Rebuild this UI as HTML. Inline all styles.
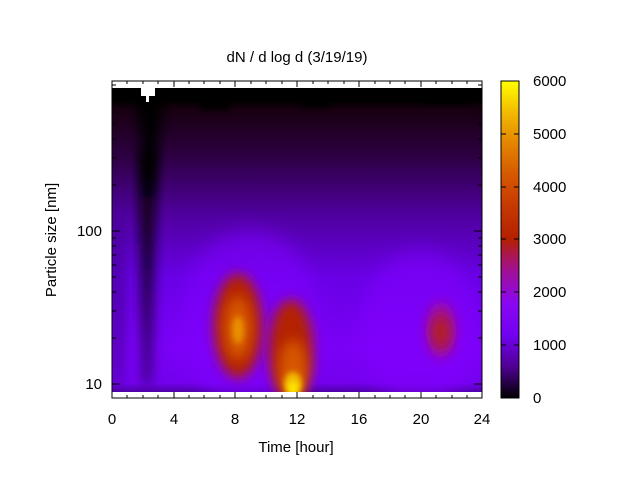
<!DOCTYPE html>
<html><head><meta charset="utf-8"><style>
body{margin:0;background:#fff}
svg{display:block}
text{font-family:"Liberation Sans","DejaVu Sans",sans-serif;font-size:15px;fill:#000}
</style></head><body>
<svg width="640" height="480" viewBox="0 0 640 480" xmlns="http://www.w3.org/2000/svg">
<defs>
<linearGradient id="bg" x1="0" y1="0" x2="0" y2="1">
<stop offset="0" stop-color="#000"/>
<stop offset="0.04" stop-color="#000"/>
<stop offset="0.07" stop-color="#180010"/>
<stop offset="0.22" stop-color="#2c0040"/>
<stop offset="0.42" stop-color="#5000a0"/>
<stop offset="0.62" stop-color="#6800e4"/>
<stop offset="0.85" stop-color="#7a00f6"/>
<stop offset="0.97" stop-color="#7400ee"/>
<stop offset="1" stop-color="#5000a8"/>
</linearGradient>
<linearGradient id="cb" x1="0" y1="1" x2="0" y2="0">
<stop offset="0" stop-color="#000000"/>
<stop offset="0.1" stop-color="#500096"/>
<stop offset="0.2" stop-color="#7202f2"/>
<stop offset="0.3" stop-color="#8b07f2"/>
<stop offset="0.4" stop-color="#a11096"/>
<stop offset="0.45" stop-color="#ab1750"/>
<stop offset="0.5" stop-color="#b42000"/>
<stop offset="0.6" stop-color="#c53700"/>
<stop offset="0.7" stop-color="#d55700"/>
<stop offset="0.8" stop-color="#e48300"/>
<stop offset="0.9" stop-color="#f2ba00"/>
<stop offset="1" stop-color="#ffff00"/>
</linearGradient>
<linearGradient id="st" x1="0" y1="0" x2="0" y2="1">
<stop offset="0" stop-color="#000"/>
<stop offset="0.3" stop-color="#0a0010"/>
<stop offset="0.6" stop-color="#200040"/>
<stop offset="1" stop-color="#3a0080"/>
</linearGradient>
<clipPath id="clip"><rect x="112" y="88" width="370" height="304"/></clipPath>
<filter id="b6" x="-50%" y="-50%" width="200%" height="200%"><feGaussianBlur stdDeviation="6"/></filter>
<filter id="b10" x="-50%" y="-50%" width="200%" height="200%"><feGaussianBlur stdDeviation="10"/></filter>
<filter id="b3" x="-50%" y="-50%" width="200%" height="200%"><feGaussianBlur stdDeviation="3"/></filter>
</defs>
<g clip-path="url(#clip)">
<rect x="112" y="88" width="370" height="304" fill="url(#bg)"/>
<ellipse cx="250" cy="320" rx="70" ry="90" fill="#8000ff" opacity="0.6" filter="url(#b10)"/>
<ellipse cx="420" cy="330" rx="60" ry="80" fill="#8200ff" opacity="0.6" filter="url(#b10)"/>
<!-- dark streak -->
<path d="M140,150 L156,150 L153,300 L151,385 L143,385 L141,300 Z" fill="url(#st)" filter="url(#b6)"/>
<path d="M134,88 L166,88 L160,130 L152,195 L146,195 L140,130 Z" fill="#000" filter="url(#b6)"/>
<ellipse cx="118" cy="300" rx="8" ry="90" fill="#40008a" opacity="0.6" filter="url(#b6)"/>
<!-- top black band -->
<path d="M112,88 H482 V100 H470 V104 H420 V98 H330 V108 H300 V100 H230 V110 H200 V100 H112Z" fill="#000" filter="url(#b3)"/>
<path d="M112,88 H482 V98 H112Z" fill="#000"/>
<!-- blobs -->
<ellipse cx="238" cy="326" rx="24" ry="52" fill="#b42000" filter="url(#b6)"/>
<ellipse cx="238" cy="328" rx="14" ry="32" fill="#d55700" filter="url(#b6)"/>
<ellipse cx="238" cy="330" rx="6" ry="14" fill="#e89000" filter="url(#b3)"/>
<ellipse cx="291" cy="350" rx="22" ry="50" fill="#b42000" filter="url(#b6)"/>
<ellipse cx="293" cy="370" rx="14" ry="30" fill="#d55700" filter="url(#b6)"/>
<ellipse cx="293" cy="384" rx="9" ry="12" fill="#f2ba00" filter="url(#b3)"/>
<ellipse cx="293" cy="388" rx="5" ry="6" fill="#ffe800" filter="url(#b3)"/>
<ellipse cx="441" cy="330" rx="15" ry="28" fill="#a11096" filter="url(#b6)"/>
<ellipse cx="441" cy="332" rx="8" ry="16" fill="#b42010" filter="url(#b6)"/>
</g>
<rect x="141" y="88" width="14" height="8" fill="#fff"/>
<rect x="146" y="96" width="3" height="6" fill="#fff"/>
<rect x="112" y="81" width="370" height="317" fill="none" stroke="#000" stroke-width="1"/>
<g stroke="#000" stroke-width="1">
<path d="M112,398v-6M174,398v-6M235,398v-6M297,398v-6M359,398v-6M421,398v-6M482,398v-6M112,81v6M174,81v6M235,81v6M297,81v6M359,81v6M421,81v6M482,81v6"/>
<path d="M127,398v-3M143,398v-3M158,398v-3M189,398v-3M204,398v-3M220,398v-3M251,398v-3M266,398v-3M282,398v-3M313,398v-3M328,398v-3M344,398v-3M375,398v-3M390,398v-3M405,398v-3M436,398v-3M452,398v-3M467,398v-3"/>
<path d="M127,81v3M143,81v3M158,81v3M189,81v3M204,81v3M220,81v3M251,81v3M266,81v3M282,81v3M313,81v3M328,81v3M344,81v3M375,81v3M390,81v3M405,81v3M436,81v3M452,81v3M467,81v3"/>
<path d="M112,384h8M112,231h8M482,384h-8M482,231h-8"/>
<path d="M112,338h4M112,311h4M112,292h4M112,277h4M112,265h4M112,255h4M112,246h4M112,238h4M112,185h4M112,158h4M112,139h4M112,124h4M112,112h4M112,102h4M112,93h4M112,85h4"/>
<path d="M482,338h-4M482,311h-4M482,292h-4M482,277h-4M482,265h-4M482,255h-4M482,246h-4M482,238h-4M482,185h-4M482,158h-4M482,139h-4M482,124h-4M482,112h-4M482,102h-4M482,93h-4M482,85h-4"/>
</g>
<rect x="501" y="81" width="18" height="317" fill="url(#cb)" stroke="#000" stroke-width="1"/>
<g stroke="#000" stroke-width="1">
<path d="M501,398h5M501,345h5M501,292h5M501,239h5M501,187h5M501,134h5M501,81h5M519,398h-5M519,345h-5M519,292h-5M519,239h-5M519,187h-5M519,134h-5M519,81h-5"/>
</g>
<g text-anchor="start">
<text x="533" y="403">0</text>
<text x="533" y="350">1000</text>
<text x="533" y="297">2000</text>
<text x="533" y="244">3000</text>
<text x="533" y="192">4000</text>
<text x="533" y="139">5000</text>
<text x="533" y="86">6000</text>
</g>
<g text-anchor="middle">
<text x="112" y="424">0</text>
<text x="174" y="424">4</text>
<text x="235" y="424">8</text>
<text x="297" y="424">12</text>
<text x="359" y="424">16</text>
<text x="421" y="424">20</text>
<text x="482" y="424">24</text>
<text x="296" y="452">Time [hour]</text>
<text x="297" y="62">dN / d log d (3/19/19)</text>
</g>
<g text-anchor="end">
<text x="102" y="389">10</text>
<text x="102" y="236">100</text>
</g>
<text x="0" y="0" text-anchor="middle" transform="translate(56,240) rotate(-90)">Particle size [nm]</text>
</svg>
</body></html>
